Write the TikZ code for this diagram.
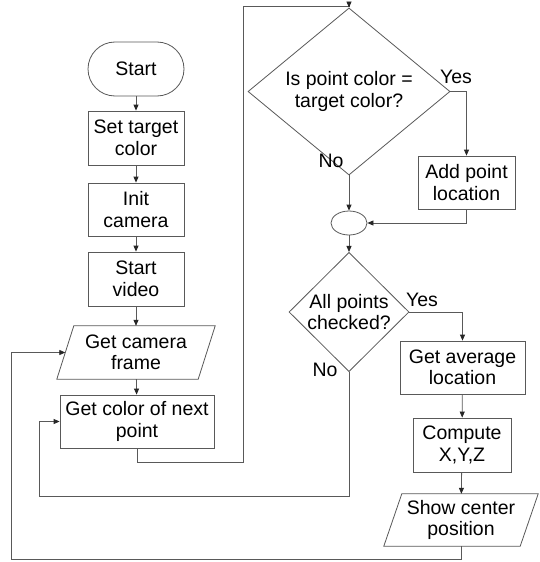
\documentclass[tikz,border=0pt]{standalone}
\usepackage{fontspec}
\setmainfont{Liberation Sans}
\usetikzlibrary{shapes.geometric,arrows.meta,calc}
\definecolor{lc}{gray}{0.35}
\begin{document}
\begin{tikzpicture}[x=1pt,y=-1pt,
  every node/.style={font=\fontsize{19.5}{21.5}\selectfont, inner sep=0pt, align=center},
  box/.style={draw=lc, line width=0.8pt, rectangle, minimum height=54pt},
  term/.style={box, rounded corners=27pt},
  iobox/.style={rectangle, minimum height=53pt},
  dec/.style={draw=lc, line width=0.8pt, diamond},
  junc/.style={draw=lc, line width=0.8pt, ellipse, minimum width=36pt, minimum height=24pt},
  edge/.style={draw=lc, line width=0.8pt},
  arr/.style={edge, -{Triangle[length=6pt,width=5pt,color=black!85]}}
]
\useasboundingbox (0,0) rectangle (540,562);
\fill[white] (0,0) rectangle (540,562);

% left column
\node[term, minimum width=96pt] (start) at (136,69) {Start};
\node[box, minimum width=96pt] (settarget) at (136,138) {Set target\\color};
\node[box, minimum width=96pt, minimum height=53pt] (init) at (136,209.5) {Init\\camera};
\node[box, minimum width=96pt] (video) at (136,279) {Start\\video};
\node[iobox, minimum width=141pt] (frame) at (136,352.5) {Get camera\\frame};
\draw[edge] ($(frame.north west)+(8.5,0)$) -- ($(frame.north east)+(8.5,0)$)
  -- ($(frame.south east)+(-8.5,0)$) -- ($(frame.south west)+(-8.5,0)$) -- cycle;
\node[box, minimum width=154pt, minimum height=53pt] (getcolor) at (137,421.5) {Get color of next\\point};

% right column
\node[dec, minimum width=202pt, minimum height=127pt] (d1) at (349,91.5) {Is point color =\\target color?};
\node[box, minimum width=97pt, minimum height=53pt] (add) at (466.5,182.5) {Add point\\location};
\node[junc] (j) at (349,223) {};
\node[dec, minimum width=120pt, minimum height=110pt] (d2) at (349,312) {All points\\checked?};
\node[box, minimum width=125pt, minimum height=53pt] (avg) at (462.5,367.5) {Get average\\location};
\node[box, minimum width=98pt] (comp) at (462,445) {Compute\\X,Y,Z};
\node[iobox, minimum width=136pt, minimum height=52pt] (show) at (461,520) {Show center\\position};
\draw[edge] ($(show.north west)+(9,0)$) -- ($(show.north east)+(9,0)$)
  -- ($(show.south east)+(-9,0)$) -- ($(show.south west)+(-9,0)$) -- cycle;

% labels
\node (yes1) at (456,77) {Yes};
\node (no1) at (331,161) {No};
\node (yes2) at (422,300) {Yes};
\node (no2) at (325,370) {No};

% coordinates for routing
\coordinate (c1) at (243,462);
\coordinate (c2) at (243,6);
\coordinate (c3) at (39,496);
\coordinate (c4) at (11,559);

% connectors
\draw[arr] (start) -- (settarget);
\draw[arr] (settarget) -- (init);
\draw[arr] (init) -- (video);
\draw[arr] (video) -- (frame);
\draw[arr] (frame) -- (getcolor);
\draw[arr] (getcolor.south) |- (c1) -- (c2) -| (d1.north);
\draw[arr] (d1.east) -| (add.north);
\draw[arr] (add.south) |- (j.east);
\draw[arr] (d1.south) -- (j.north);
\draw[arr] (j.south) -- (d2.north);
\draw[arr] (d2.east) -| (avg.north);
\draw[arr] (avg) -- (comp);
\draw[arr] (comp) -- (show);
\draw[arr] (d2.south) |- (c3) |- (getcolor.west);
\draw[arr] (show.south) |- (c4) |- (frame.west);
\end{tikzpicture}
\end{document}
